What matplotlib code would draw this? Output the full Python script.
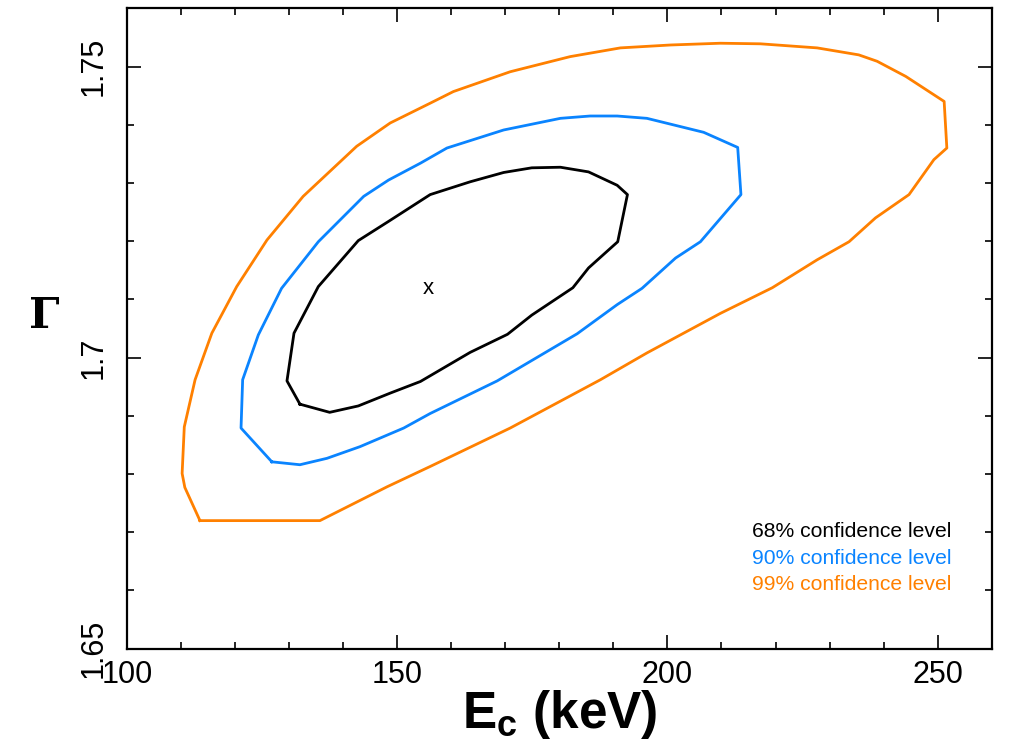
import matplotlib
matplotlib.use("Agg")
import matplotlib.pyplot as plt
from matplotlib.ticker import MultipleLocator

plt.rcParams['font.family'] = ['Liberation Sans', 'DejaVu Sans']
plt.rcParams['mathtext.fontset'] = 'custom'
plt.rcParams['mathtext.rm'] = 'Liberation Sans'
plt.rcParams['mathtext.bf'] = 'Liberation Sans:bold'

# 99% confidence contour (Ec [keV], Gamma)
ec_99 = [113.5, 135.7, 148.1, 156.1, 170.9, 187.6, 196.2, 203.0, 209.8, 219.4,
         227.7, 233.6, 238.5, 244.7, 249.3, 251.7, 251.2, 244.1, 238.8, 235.4,
         227.7, 217.2, 209.8, 200.6, 191.3, 182.0, 170.9, 160.4, 156.1, 148.7,
         142.5, 132.6, 125.9, 120.3, 115.7, 112.6, 110.6, 110.2, 110.7, 113.5]
g_99 = [1.6720, 1.6720, 1.6778, 1.6813, 1.6879, 1.6962, 1.7008, 1.7042, 1.7076, 1.7120,
        1.7168, 1.7199, 1.7240, 1.7280, 1.7340, 1.7360, 1.7440, 1.7483, 1.7509, 1.7520,
        1.7532, 1.7539, 1.7540, 1.7537, 1.7532, 1.7517, 1.7491, 1.7457, 1.7437, 1.7403,
        1.7363, 1.7277, 1.7202, 1.7122, 1.7042, 1.6962, 1.6881, 1.6801, 1.6777, 1.6720]

# 90% confidence contour
ec_90 = [126.8, 132.0, 137.0, 143.1, 151.2, 156.1, 168.5, 183.3, 190.7, 195.3,
         201.5, 206.1, 213.6, 213.0, 206.7, 196.2, 190.7, 185.7, 180.2, 169.7,
         159.2, 154.3, 148.4, 143.8, 135.4, 128.6, 124.3, 121.4, 121.1, 126.8]
g_90 = [1.6821, 1.6816, 1.6827, 1.6847, 1.6879, 1.6904, 1.6960, 1.7041, 1.7091, 1.7119,
        1.7171, 1.7199, 1.7280, 1.7361, 1.7387, 1.7411, 1.7415, 1.7415, 1.7411, 1.7391,
        1.7360, 1.7334, 1.7305, 1.7277, 1.7199, 1.7119, 1.7039, 1.6962, 1.6879, 1.6821]

# 68% confidence contour
ec_68 = [132.0, 137.5, 142.8, 148.7, 154.3, 163.5, 170.4, 174.9, 182.5, 185.4,
         190.8, 192.6, 190.7, 185.4, 180.2, 174.9, 169.7, 163.5, 156.1, 148.4,
         142.8, 135.4, 130.9, 129.6, 132.0]
g_68 = [1.6920, 1.6906, 1.6917, 1.6939, 1.6959, 1.7009, 1.7040, 1.7073, 1.7120, 1.7154,
        1.7199, 1.7280, 1.7296, 1.7319, 1.7327, 1.7326, 1.7318, 1.7302, 1.7280, 1.7234,
        1.7201, 1.7122, 1.7042, 1.6960, 1.6920]

best_fit = (155.8, 1.7119)

labels = ["68% confidence level", "90% confidence level", "99% confidence level"]
colors = ["black", "#0A84FF", "#FF8000"]

fig = plt.figure(figsize=(10.09, 7.40), dpi=100)
ax = fig.add_axes([127/1009, 1 - 648.7/740, (991.7 - 127)/1009, (648.7 - 8.3)/740])

ax.plot(ec_99, g_99, color=colors[2], lw=2.0)
ax.plot(ec_90, g_90, color=colors[1], lw=2.0)
ax.plot(ec_68, g_68, color=colors[0], lw=2.0)
ax.text(best_fit[0], best_fit[1], "x", fontsize=16, ha="center", va="center")

ax.set_xlim(100, 260)
ax.set_ylim(1.65, 1.76)
ax.xaxis.set_major_locator(MultipleLocator(50))
ax.xaxis.set_minor_locator(MultipleLocator(10))
ax.yaxis.set_major_locator(MultipleLocator(0.05))
ax.yaxis.set_minor_locator(MultipleLocator(0.01))
ax.set_xticks([100, 150, 200, 250])
ax.set_xticklabels(["100", "150", "200", "250"])
ax.set_yticks([1.65, 1.70, 1.75])
ax.set_yticklabels(["1.65", "1.7", "1.75"], rotation=90, va="center")

ax.tick_params(which="both", direction="in", top=True, right=True, width=1.2,
               labelsize=22)
ax.tick_params(which="major", length=10)
ax.tick_params(which="minor", length=5)
ax.tick_params(axis="x", which="major", pad=8)
ax.tick_params(axis="y", which="major", pad=13)
for sp in ax.spines.values():
    sp.set_linewidth(1.6)

for i, (lab, col) in enumerate(zip(labels, colors)):
    ax.text(751.7 / 1009, 1 - (531.7 + 26.6 * i) / 740, lab, color=col,
            fontsize=15.2, ha="left", va="center", transform=fig.transFigure)

fig.text(559.5 / 1009, 1 - 728 / 740, r"E$_{\mathbf{c}}$ (keV)", fontsize=37,
         fontweight="bold", ha="center", va="baseline")
fig.text(44 / 1009, 1 - 316 / 740, "Γ", fontsize=31, fontweight="bold",
         family=["DejaVu Serif"], ha="center", va="center")

fig.savefig("out.png", dpi=100)
